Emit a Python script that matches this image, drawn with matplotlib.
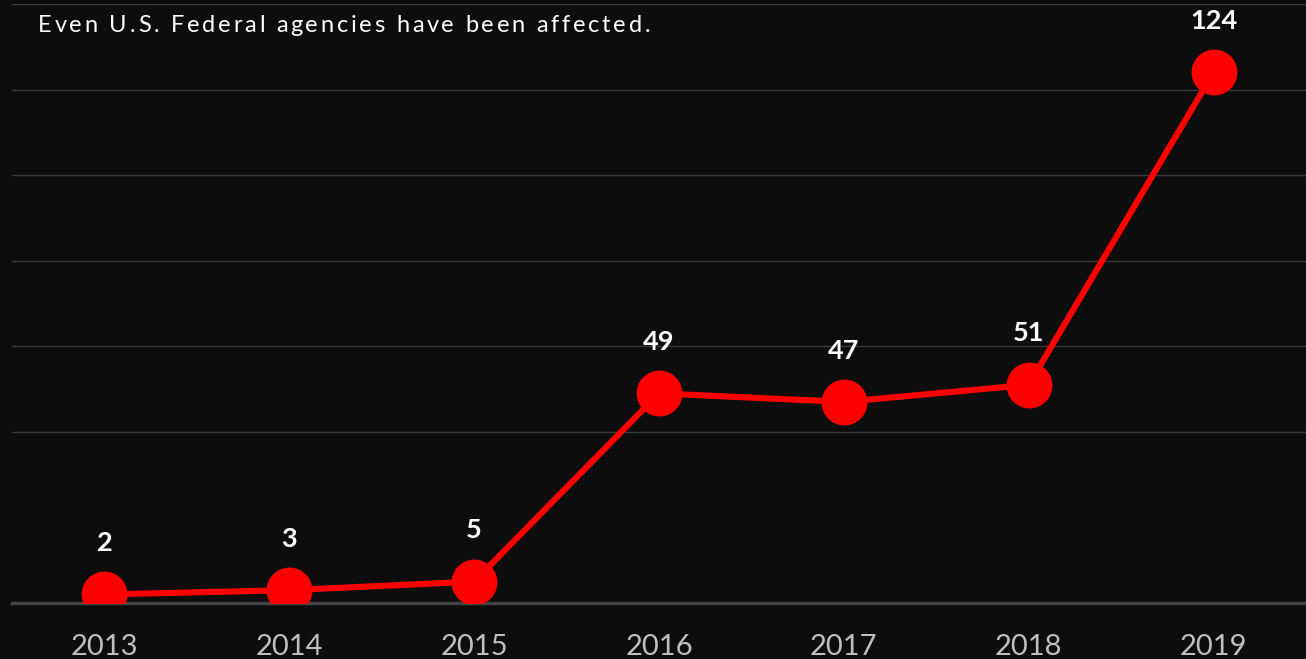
import matplotlib
matplotlib.use("Agg")
import matplotlib.pyplot as plt

# data
years = ["2013", "2014", "2015", "2016", "2017", "2018", "2019"]
counts = [2, 3, 5, 49, 47, 51, 124]
grid_values = [40, 60, 80, 100, 120, 140]
title = "Even U.S. Federal agencies have been affected."

bg = "#0d0d0d"
red = "#ff0000"

fig = plt.figure(figsize=(13.06, 6.59), dpi=100, facecolor=bg)
ax = fig.add_axes([12 / 1306, 56 / 659, 1294 / 1306, 599 / 659])
ax.set_facecolor(bg)

x = list(range(len(years)))
ax.plot(x, counts, color=red, lw=4.4, marker="o", ms=32, mfc=red, mec=red,
        solid_capstyle="round", zorder=3)

for xi, v in zip(x, counts):
    ax.annotate(str(v), (xi, v), xytext=(0, 37), textcoords="offset points",
                ha="center", va="center", color="white", fontsize=19.5,
                fontweight="bold", family="Lato", zorder=4)

ax.set_xlim(-0.5, len(years) - 0.5)
ax.set_ylim(0, 140)
ax.set_yticks(grid_values)
ax.yaxis.grid(True, color="#3a3a3a", lw=1)
ax.set_axisbelow(True)
ax.tick_params(axis="y", left=False, labelleft=False)
ax.set_xticks(x)
ax.set_xticklabels(years, color="#bfbfbf", fontsize=21, family="Lato")
ax.tick_params(axis="x", length=0, pad=22)

for s in ["top", "right", "left"]:
    ax.spines[s].set_visible(False)
ax.spines["bottom"].set_color("#444444")
ax.spines["bottom"].set_linewidth(2.5)
ax.spines["bottom"].set_zorder(2)

# title with letter spacing, drawn one character at a time
fig.canvas.draw()
renderer = fig.canvas.get_renderer()
probe = fig.text(0, 0, "", fontsize=17, family="Lato")
x0 = 38
spacing = 2.75
probe.set_text("|")
w_pipe = probe.get_window_extent(renderer).width
for i, ch in enumerate(title):
    offset = 0
    if i > 0:
        probe.set_text(title[:i] + "|")
        offset = probe.get_window_extent(renderer).width - w_pipe
    fig.text((x0 + offset + i * spacing) / 1306, 1 - 26 / 659, ch, color="white",
             fontsize=17, family="Lato", va="center", ha="left")
probe.remove()

fig.savefig("out.png", dpi=100, facecolor=bg)
